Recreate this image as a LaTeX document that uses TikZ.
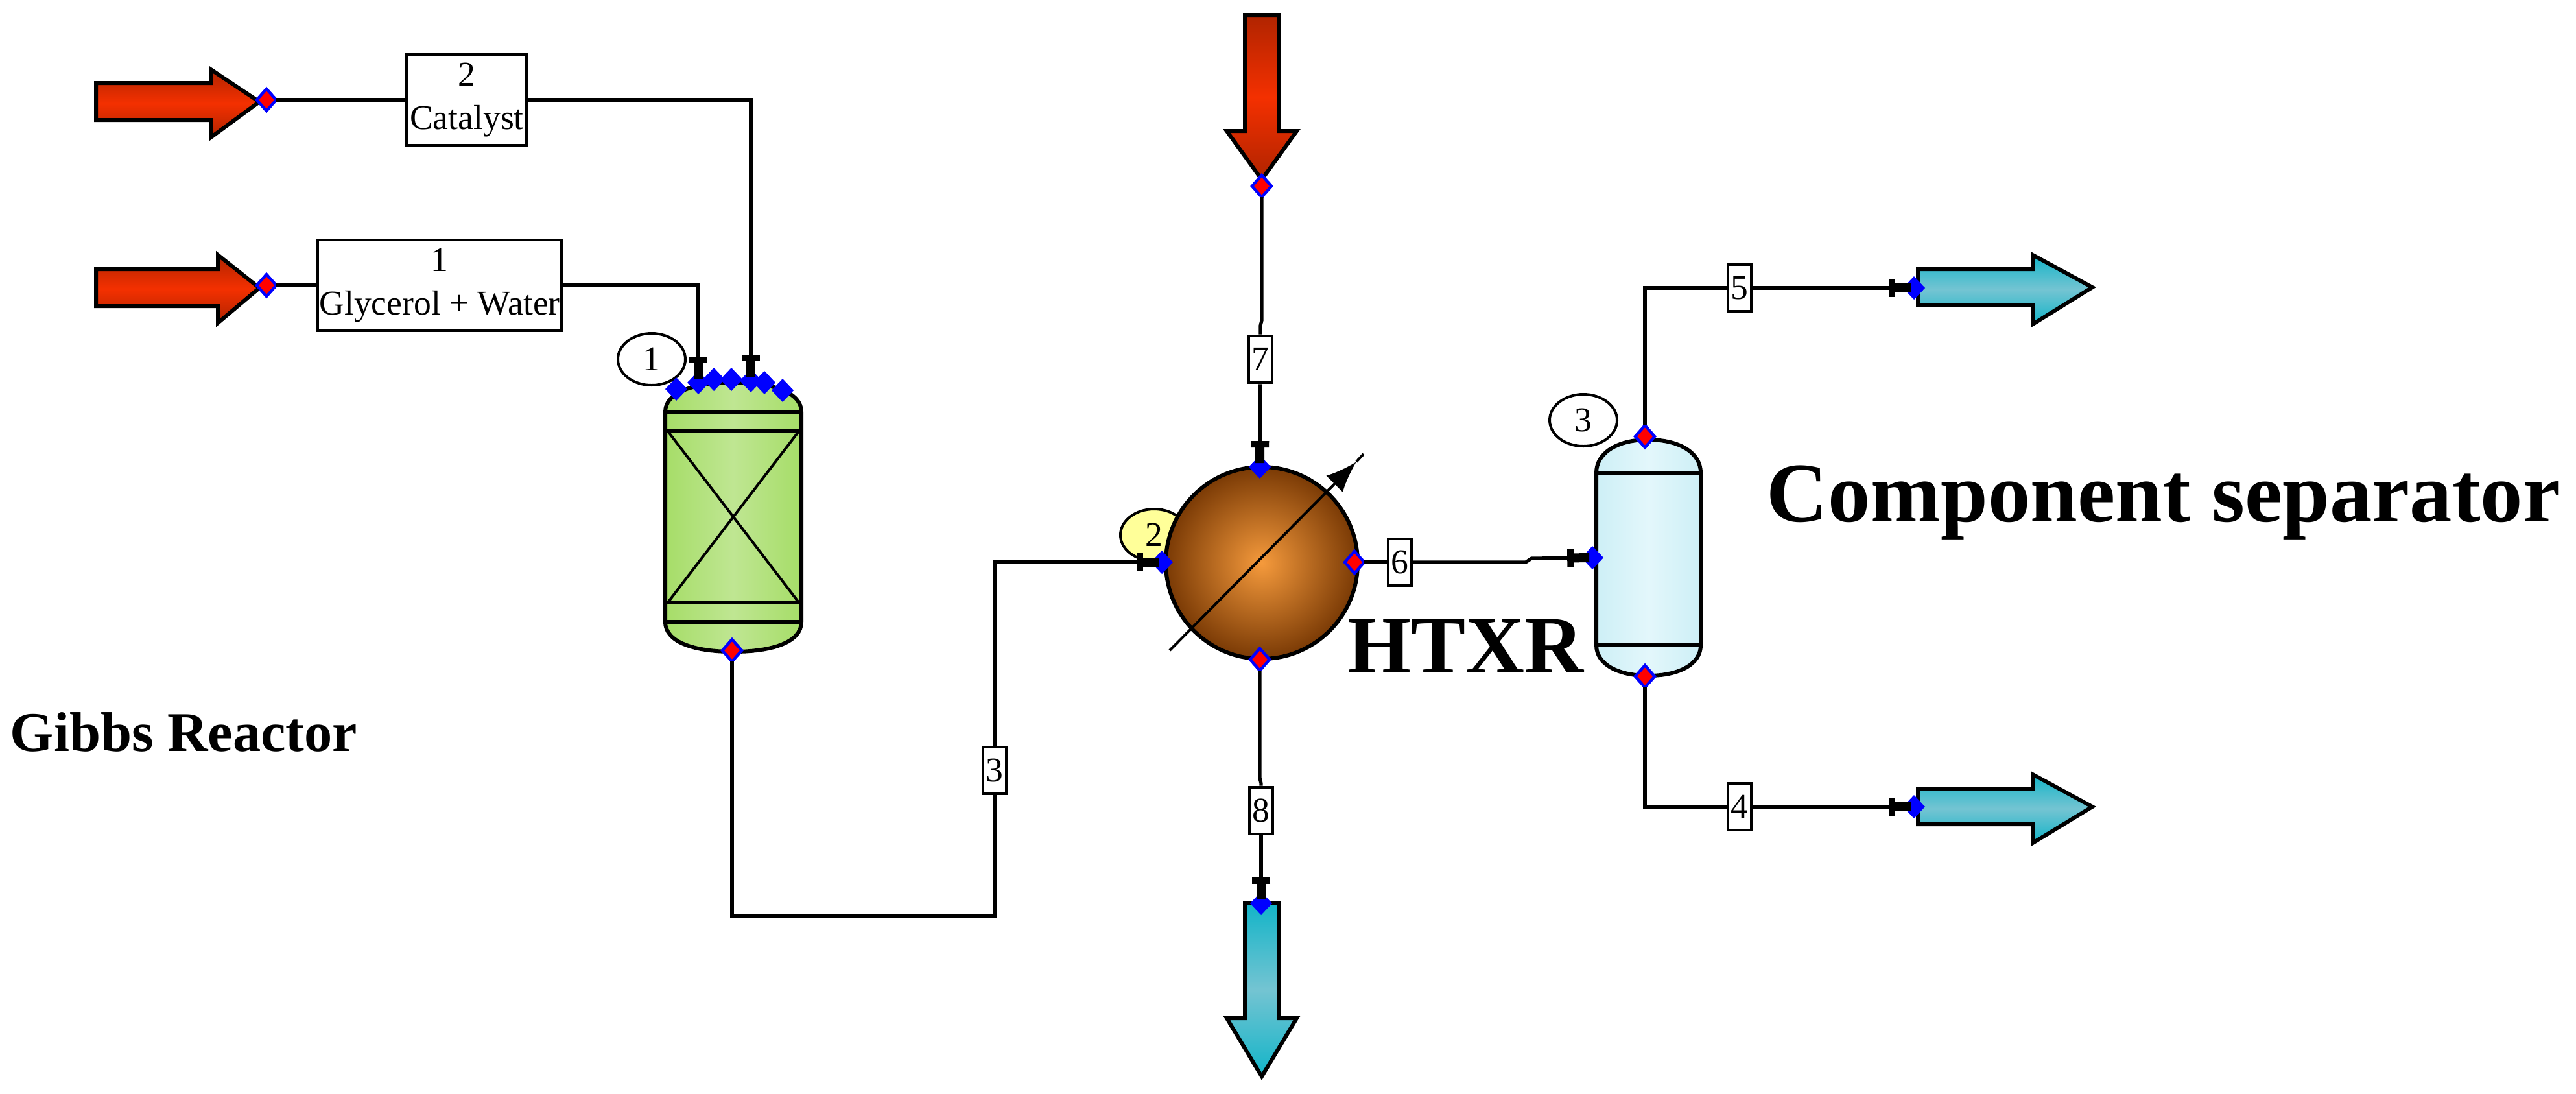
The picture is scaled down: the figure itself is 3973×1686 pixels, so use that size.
\documentclass[tikz,border=0pt]{standalone}
\usepackage{fontspec}
\setmainfont{Liberation Serif}
\usetikzlibrary{arrows.meta,shapes.geometric}
\definecolor{feedEnd}{HTML}{B02400}
\definecolor{feedMid}{HTML}{F43000}
\definecolor{prodEnd}{HTML}{12B4C8}
\definecolor{prodMid}{HTML}{74C4D2}
\definecolor{gibbsEdge}{HTML}{A6DD68}
\definecolor{gibbsMid}{HTML}{BFE692}
\definecolor{sepEdge}{HTML}{CDEFF6}
\definecolor{sepMid}{HTML}{E3F7FB}
\definecolor{htxrIn}{HTML}{F59A3C}
\definecolor{htxrOut}{HTML}{7A3A05}
\definecolor{tagYellow}{HTML}{FFFF99}
\newcommand{\smallFont}{\fontsize{13.4}{16.7}\selectfont}
\newcommand{\bigFont}{\fontsize{32.7}{36}\selectfont\bfseries}
\newcommand{\htxrFont}{\fontsize{31.5}{36}\selectfont\bfseries}
\newcommand{\midFont}{\fontsize{21.6}{24}\selectfont\bfseries}
\tikzset{
  strmTip/.tip={Bar[width=7pt,line width=2.5pt,sep=0pt] Rectangle[length=6pt,width=3.5pt]},
  strmLine/.style={line width=1.3pt, line join=miter},
  strmFlow/.style={strmLine, -strmTip, shorten >=-3pt},
  shellLine/.style={draw, line width=1.5pt, line join=miter},
  feedArrow/.style={shellLine, top color=feedEnd, bottom color=feedEnd, middle color=feedMid},
  prodArrow/.style={shellLine, top color=prodEnd, bottom color=prodEnd, middle color=prodMid},
  portIn/.style={diamond, fill=blue, inner sep=0pt, outer sep=0pt, minimum width=8.5pt, minimum height=9pt},
  portOut/.style={diamond, fill=red, draw=blue, line width=1.1pt, inner sep=0pt, outer sep=0pt, minimum width=7.5pt, minimum height=8.5pt},
  strmTag/.style={draw, fill=white, line width=1.2pt, font=\smallFont, inner sep=0pt, minimum width=9pt, minimum height=18pt},
  feedTag/.style={draw, fill=white, line width=1.2pt, font=\smallFont, inner sep=0pt, align=center, minimum height=35pt},
  unitTag/.style={ellipse, draw, line width=1pt, font=\smallFont, inner sep=0pt, minimum width=26pt, minimum height=20pt},
}
\begin{document}
\begin{tikzpicture}[x=0.25pt,y=-0.25pt]
\useasboundingbox (0,0) rectangle (3973,1686);
\draw[feedArrow] (148,128) -- (325,128) -- (325,107) -- (400,157) -- (325,212) -- (325,185) -- (148,185) -- cycle;
\draw[feedArrow] (148,415) -- (336,415) -- (336,393) -- (400,444) -- (336,498) -- (336,472) -- (148,472) -- cycle;
\draw[feedArrow] (1920,23) -- (1972,23) -- (1972,202) -- (2000,202) -- (1946,277) -- (1892,202) -- (1920,202) -- cycle;
\draw[prodArrow] (1920,1392) -- (1972,1392) -- (1972,1570) -- (2000,1570) -- (1946,1660) -- (1892,1570) -- (1920,1570) -- cycle;
\draw[prodArrow] (2958,415) -- (3135,415) -- (3135,393) -- (3227,443) -- (3135,500) -- (3135,470) -- (2958,470) -- cycle;
\draw[prodArrow] (2958,1216) -- (3135,1216) -- (3135,1194) -- (3227,1244) -- (3135,1300) -- (3135,1271) -- (2958,1271) -- cycle;
\draw[shellLine, left color=gibbsEdge, right color=gibbsEdge, middle color=gibbsMid] (1026,635) .. controls (1026,605) and (1070,590) .. (1131,590) .. controls (1192,590) and (1236,605) .. (1236,635) -- (1236,959) .. controls (1236,990) and (1192,1005) .. (1131,1005) .. controls (1070,1005) and (1026,990) .. (1026,959) -- cycle;
\draw[line width=1.3pt] (1026,635) -- (1236,635);
\draw[line width=1.3pt] (1026,665) -- (1236,665);
\draw[line width=1.3pt] (1026,929) -- (1236,929);
\draw[line width=1.3pt] (1026,959) -- (1236,959);
\draw[line width=1pt] (1030,665) -- (1232,929);
\draw[line width=1pt] (1232,665) -- (1030,929);
\draw[shellLine, left color=sepEdge, right color=sepEdge, middle color=sepMid] (2462,729) .. controls (2462,698) and (2495,678) .. (2542,678) .. controls (2590,678) and (2623,698) .. (2623,729) -- (2623,995) .. controls (2623,1024) and (2590,1042) .. (2542,1042) .. controls (2495,1042) and (2462,1024) .. (2462,995) -- cycle;
\draw[line width=1.3pt] (2462,729) -- (2623,729);
\draw[line width=1.3pt] (2462,995) -- (2623,995);
\node[unitTag, fill=tagYellow] (tagHtxr) at (1780,825) {2};
\node[circle, draw, line width=1.5pt, inner sep=0pt, minimum size=74pt, inner color=htxrIn, outer color=htxrOut] (htxr) at (1946,868) {};
\coordinate (htxrA) at (1804,1003);
\coordinate (htxrB) at (2092,712);
\coordinate (htxrC) at (2103,700);
\draw[line width=1pt, -{Latex[length=12pt,width=9pt]}] (htxrA) -- (htxrB);
\draw[line width=1pt] (htxrB) -- (htxrC);
\node[unitTag, fill=white] (tagGibbs) at (1005,554) {1};
\node[unitTag, fill=white] (tagSep) at (2442,648) {3};
\node[portOut] (pFeedCat) at (411,154) {};
\node[portOut] (pFeedGly) at (411,440) {};
\node[portOut] (pCoolIn) at (1946,287) {};
\node[portIn] (pRa) at (1043,600) {};
\node[portIn] (pRb) at (1077,590) {};
\node[portIn] (pRc) at (1101,585) {};
\node[portIn] (pRd) at (1128,585) {};
\node[portIn] (pRe) at (1158,587) {};
\node[portIn] (pRf) at (1179,590) {};
\node[portIn] (pRg) at (1207,602) {};
\node[portOut] (pRout) at (1129,1003) {};
\node[portIn] (pHl) at (1792,867) {};
\node[portIn] (pHt) at (1943,720) {};
\node[portOut] (pHr) at (2089,867) {};
\node[portOut] (pHb) at (1943,1017) {};
\node[portIn] (pSl) at (2456,860) {};
\node[portOut] (pSt) at (2537,673) {};
\node[portOut] (pSb) at (2537,1043) {};
\node[portIn] (pProdTop) at (2952,444) {};
\node[portIn] (pProdBot) at (2952,1244) {};
\node[portIn] (pCoolOut) at (1945,1393) {};
\node[feedTag, minimum width=46.25pt] (sCat) at (720,154) {2\\Catalyst};
\node[feedTag, minimum width=94.25pt] (sGly) at (678,440) {1\\Glycerol + Water};
\node[strmTag] (sThree) at (1534,1188) {3};
\node[strmTag] (sFour) at (2683,1244) {4};
\node[strmTag] (sFive) at (2683,444) {5};
\node[strmTag] (sSix) at (2159,867) {6};
\node[strmTag] (sSeven) at (1944,554) {7};
\node[strmTag] (sEight) at (1945,1250) {8};
\coordinate (cThree) at (1534,1412);
\coordinate (cSixA) at (2353,867);
\coordinate (cSixB) at (2362,861);
\coordinate (cSevenA) at (1946,494);
\coordinate (cSevenB) at (1944,502);
\coordinate (cEightA) at (1943,1200);
\coordinate (cEightB) at (1945,1208);
\draw[strmLine] (pFeedCat) -- (sCat);
\draw[strmLine] (pFeedGly) -- (sGly);
\draw[strmFlow] (sCat) -| (pRe);
\draw[strmFlow] (sGly) -| (pRb);
\draw[strmLine] (pRout) |- (cThree) -- (sThree);
\draw[strmFlow] (sThree) |- (pHl);
\draw[strmLine] (pCoolIn) -- (cSevenA) -- (cSevenB) -- (sSeven);
\draw[strmFlow] (sSeven) -- (pHt);
\draw[strmLine] (pHb) -- (cEightA) -- (cEightB) -- (sEight);
\draw[strmFlow] (sEight) -- (pCoolOut);
\draw[strmLine] (pHr) -- (sSix);
\draw[strmFlow] (sSix) -- (cSixA) -- (cSixB) -- (pSl);
\draw[strmLine] (pSt) |- (sFive);
\draw[strmFlow] (sFive) -- (pProdTop);
\draw[strmLine] (pSb) |- (sFour);
\draw[strmFlow] (sFour) -- (pProdBot);
\node[font=\midFont, anchor=base west, inner sep=0pt] (lblGibbs) at (15,1158) {Gibbs Reactor};
\node[font=\htxrFont, anchor=base west, inner sep=0pt] (lblHtxr) at (2078,1037) {HTXR};
\node[font=\bigFont, anchor=base west, inner sep=0pt] (lblSep) at (2724,804) {Component separator};
\end{tikzpicture}
\end{document}
